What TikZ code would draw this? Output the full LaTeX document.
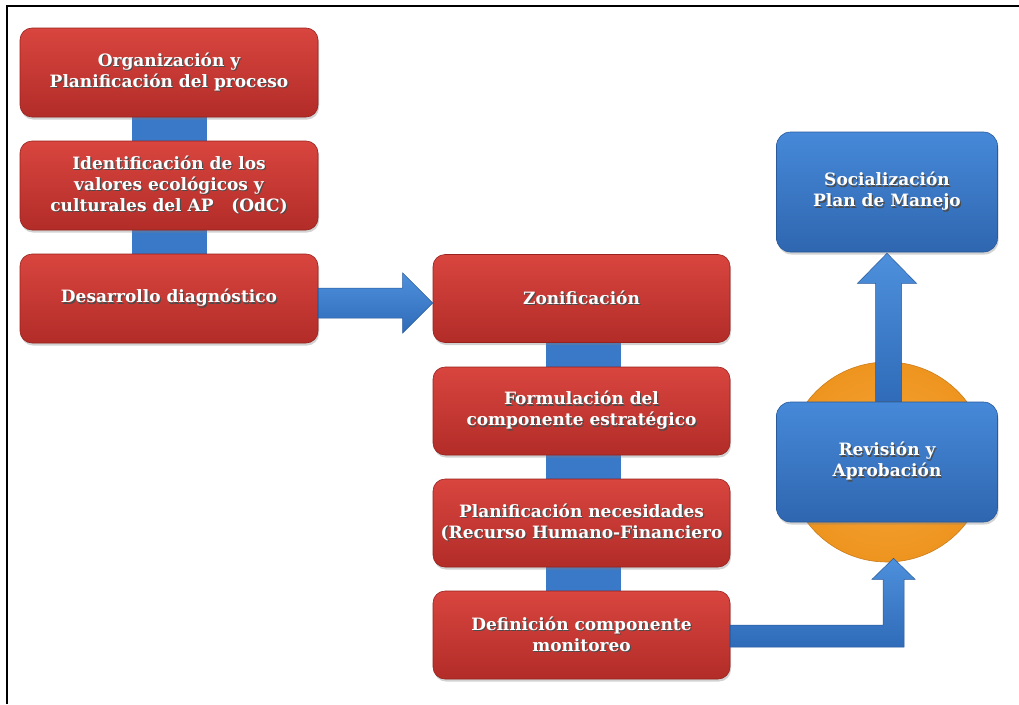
\documentclass[tikz,border=0pt]{standalone}
\usepackage{fontspec}
\setmainfont{DejaVu Serif}
\usetikzlibrary{shadows,calc,backgrounds}
\definecolor{redtop}{HTML}{D9453F}
\definecolor{redbot}{HTML}{B22C28}
\definecolor{redline}{HTML}{97221E}
\definecolor{bluetop}{HTML}{4689D8}
\definecolor{bluebot}{HTML}{2F66B0}
\definecolor{blueline}{HTML}{285A9C}
\definecolor{barblue}{HTML}{3A78C8}
\definecolor{arrtop}{HTML}{4E90DC}
\definecolor{arrbot}{HTML}{2F6BB8}
\definecolor{orin}{HTML}{F7A63B}
\definecolor{orout}{HTML}{EE941F}
\newcommand{\shd}[1]{\leavevmode\rlap{\hspace{1.2pt}\raisebox{-1.3pt}{\color{black!70}#1}}#1}
\tikzset{
  txt/.style={text=white, font=\bfseries\fontsize{17}{21}\selectfont, align=center, inner sep=2pt},
  redbox/.style={txt, rounded corners=12pt, top color=redtop, bottom color=redbot, draw=redline, line width=0.6pt,
    minimum width=298pt, minimum height=89pt,
    drop shadow={opacity=0.35, shadow xshift=1pt, shadow yshift=-2.5pt}},
  bluebox/.style={txt, rounded corners=14pt, top color=bluetop, bottom color=bluebot, draw=blueline, line width=0.6pt,
    minimum width=221pt, minimum height=120pt,
    drop shadow={opacity=0.35, shadow xshift=1pt, shadow yshift=-2.5pt}},
  bar/.style={fill=barblue},
  bigarrow/.style={top color=arrtop, bottom color=arrbot, draw=blueline, line width=0.5pt},
  ringstyle/.style={circle, minimum size=200pt, inner sep=0pt, inner color=orin, outer color=orout, draw=orout!85!black, line width=0.6pt}
}
\begin{document}
\begin{tikzpicture}[x=1pt,y=-1pt]
\useasboundingbox (0,0) rectangle (1019,704);

% left column
\node[redbox] (org) at (169,72.5) {\shd{Organización y}\\\shd{Planificación del proceso}};
\node[redbox] (ide) at (169,185.5) {\shd{Identificación de los}\\\shd{valores ecológicos y}\\\shd{culturales del AP~~~(OdC)}};
\node[redbox] (dia) at (169,298.5) {\shd{Desarrollo diagnóstico}};

% middle column
\node[redbox, minimum width=297pt, minimum height=88pt] (zon) at (581.5,298.5) {\shd{Zonificación}};
\node[redbox, minimum width=297pt, minimum height=88pt] (for) at (581.5,411) {\shd{Formulación del}\\\shd{componente estratégico}};
\node[redbox, minimum width=297pt, minimum height=88pt] (pla) at (581.5,523) {\shd{Planificación necesidades}\\\shd{(Recurso Humano-Financiero}};
\node[redbox, minimum width=297pt, minimum height=88pt] (def) at (581.5,635) {\shd{Definición componente}\\\shd{monitoreo}};

% right column
\node[ringstyle] (ring) at (887,462) {};
\node[bluebox] (soc) at (887,192) {\shd{Socialización}\\\shd{Plan de Manejo}};
\node[bluebox] (rev) at (887,462) {\shd{Revisión y}\\\shd{Aprobación}};

% background, frame and connecting bars
\begin{scope}[on background layer]
\fill[white] (0,0) rectangle (1019,704);
\draw[line width=2.5pt, black] (7,704) -- (7,6) -- (1019,6);
\fill[bar] ($(org.south)+(-37.5,0)$) rectangle ($(ide.north)+(37.5,0)$);
\fill[bar] ($(ide.south)+(-37.5,0)$) rectangle ($(dia.north)+(37.5,0)$);
\fill[bar] ($(zon.south)+(-36,0)$) rectangle ($(for.north)+(39,0)$);
\fill[bar] ($(for.south)+(-36,0)$) rectangle ($(pla.north)+(39,0)$);
\fill[bar] ($(pla.south)+(-36,0)$) rectangle ($(def.north)+(39,0)$);
\end{scope}

% arrow diagnostico -> zonificacion
\path[bigarrow] ($(dia.east)+(0,-10.5)$) -- ($(zon.west)+(-30,-10.5)$) -- ($(zon.west)+(-30,-25.5)$)
  -- ($(zon.west)+(0,4.5)$) -- ($(zon.west)+(-30,34.5)$) -- ($(zon.west)+(-30,19.5)$)
  -- ($(dia.east)+(0,19.5)$) -- cycle;

% arrow revision -> socializacion
\path[bigarrow] ($(rev.north)+(-11.5,0)$) -- ($(soc.south)+(-11.5,31)$) -- ($(soc.south)+(-29.5,31)$)
  -- ($(soc.south)+(0,1)$) -- ($(soc.south)+(29.5,31)$) -- ($(soc.south)+(14.5,31)$)
  -- ($(rev.north)+(14.5,0)$) -- cycle;

% elbow arrow definicion -> revision
\coordinate (tip) at ($(ring.south)+(6.5,-4)$);
\coordinate (e0) at ($(def.east)+(0,-10)$);
\coordinate (e1) at ($(def.east)+(0,12)$);
\coordinate (vl) at ($(tip)+(-10.5,21)$);
\coordinate (vr) at ($(tip)+(10.5,21)$);
\path[bigarrow] (e0) -- (vl |- e0) -- (vl) -- ($(tip)+(-21.5,21)$) -- (tip)
  -- ($(tip)+(21.5,21)$) -- (vr) -- (vr |- e1) -- (e1) -- cycle;
\end{tikzpicture}
\end{document}
